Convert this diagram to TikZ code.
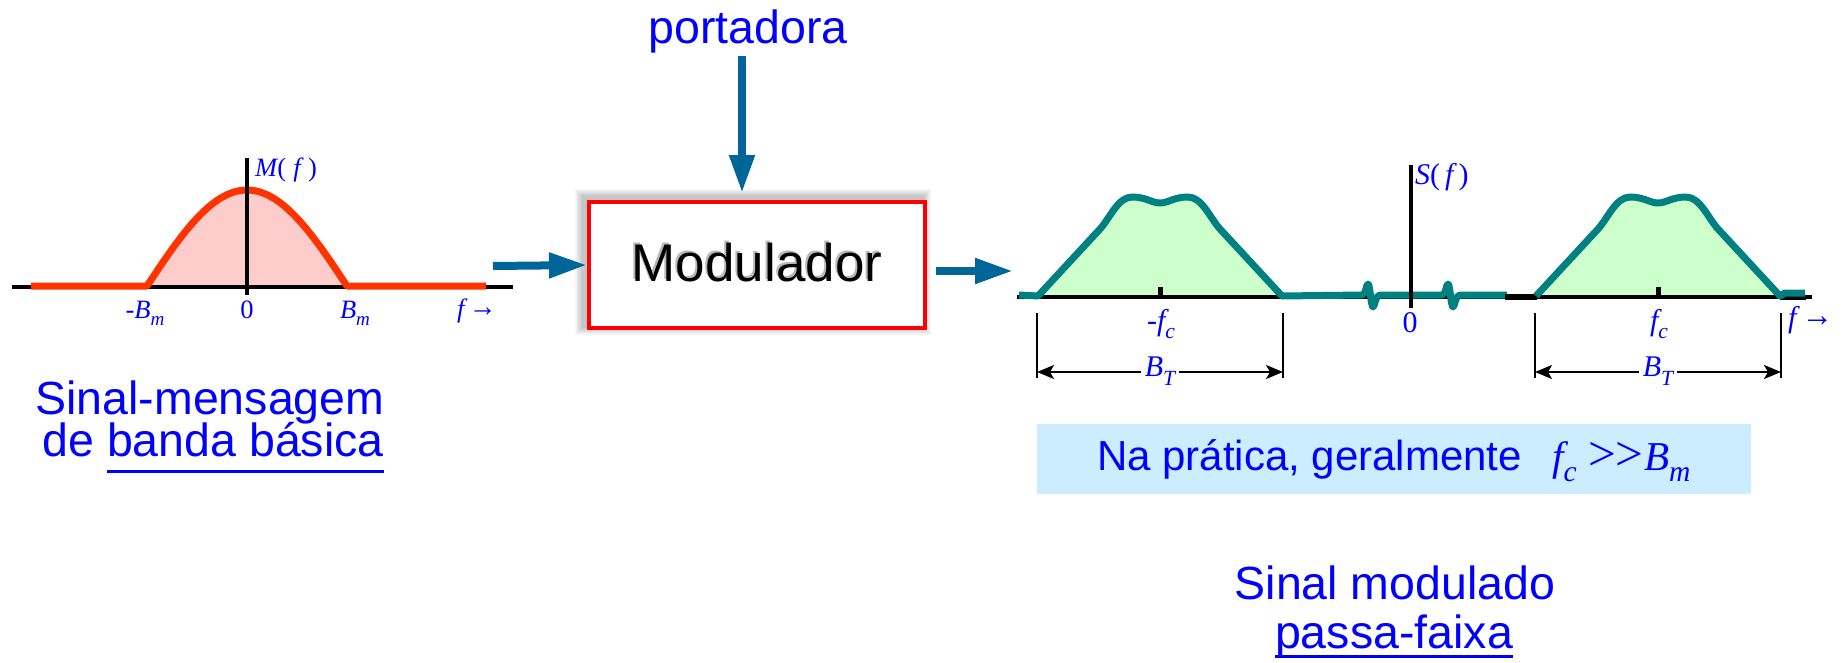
\documentclass[tikz,border=0pt]{standalone}
\usepackage{fontspec}
\usepackage{graphicx}
\setmainfont{Liberation Sans}
\newfontfamily\tms{Liberation Serif}
\usetikzlibrary{arrows.meta}

\definecolor{flowblue}{RGB}{0,102,153}
\definecolor{curvered}{RGB}{255,51,0}
\definecolor{pinkfill}{RGB}{255,204,204}
\definecolor{tealline}{RGB}{0,128,128}
\definecolor{greenfill}{RGB}{204,255,204}
\definecolor{infoblue}{RGB}{204,236,255}

% italic serif and lowered small subscript
\newcommand\vi[1]{{\itshape #1}}
\newcommand\dn[1]{\raisebox{-0.28em}{\scalebox{0.72}{#1}}}
% arrow after the frequency variable
\newcommand\farrow{\,\raisebox{0.02em}{\scalebox{1.05}[1.15]{→}}}
% text with a rule drawn #1 below its baseline
\newcommand\ulined[2]{{\setbox0\hbox{#2}\rlap{\rule[-#1]{\wd0}{3pt}}\box0}}

\begin{document}
\begin{tikzpicture}[x=1pt,y=-1pt,
  axisline/.style={black, line width=4pt},
  lab/.style={font=\tms\fontsize{26.5}{28}\selectfont, text=blue, inner sep=0pt},
  labR/.style={font=\tms\fontsize{30}{32}\selectfont, text=blue, inner sep=0pt},
  bigtext/.style={font=\fontsize{46.5}{48}\selectfont, text=blue, inner sep=0pt},
  flow/.style={draw=flowblue, line width=8pt, -{Triangle[length=38pt,width=24pt]}},
  redcurve/.style={draw=curvered, line width=7pt, line join=round},
  spectrum/.style={draw=tealline, line width=7pt, line join=round},
  dimbar/.style={black, line width=1.6pt},
  dimarrow/.style={black, line width=1.8pt, {Stealth[length=17pt,width=14pt,inset=4pt]}-{Stealth[length=17pt,width=14pt,inset=4pt]}}]
\useasboundingbox (0,0) rectangle (1843,662);

% ---------- baseband spectrum M(f) ----------
\fill[pinkfill] plot[domain=-100:100,samples=61] ({247+\x},{286-96*cos(0.9*\x)}) -- cycle;
\draw[axisline] (12,287) -- (513,287);
\draw[redcurve] (31,286) -- (147,286) -- plot[domain=-100:100,samples=61] ({247+\x},{286-96*cos(0.9*\x)}) -- (486,286);
\draw[axisline] (247,158) -- (247,295);

\node[lab, anchor=west] (Mf) at (255,170) {\vi{M}(\;\vi{f}\;)};
\node[lab, anchor=base] (mBm) at (145,318) {\vi{-B}\dn{\vi{m}}};
\node[lab, anchor=base] (z1) at (247,318) {0};
\node[lab, anchor=base] (pBm) at (355,318) {\vi{B}\dn{\vi{m}}};
\node[lab, anchor=base west] (f1) at (457,317) {\vi{f}\farrow};

\node[bigtext, anchor=base] (msg1) at (210,414) {Sinal-mensagem};
\node[bigtext, anchor=base] (msg2) at (213,456) {de \ulined{17pt}{banda básica}};

% ---------- modulator block ----------
\foreach \i in {1,...,8}
  \fill[black, opacity=0.03] (583-\i,197-\i) rectangle (923+\i,327+\i);
\node[draw=red, line width=4pt, fill=white, minimum width=336pt, minimum height=126pt, inner sep=0pt] (mod) at (757,265) {};
\node[font=\fontsize{53}{55}\selectfont, text=black!28, inner sep=0pt] (modshade) at (755,261) {Modulador};
\node[font=\fontsize{53}{55}\selectfont, inner sep=0pt] (modtxt) at (757,263) {Modulador};

\node[bigtext, anchor=base] (carrier) at (748,43) {portadora};

\coordinate (inTail) at (493,266);
\coordinate (carTail) at (742,56);
\coordinate (outTail) at (936,271);
\coordinate (outTip) at (1013,271);
\draw[flow] (inTail) -- (mod.west);
\draw[flow, shorten >=7pt] (carTail) -- (carTail |- mod.north);
\draw[flow] (outTail) -- (outTip);

% ---------- bandpass spectrum S(f) ----------
\foreach \c in {1160,1658}
  \fill[greenfill] ({\c-122},297) -- ({\c-60},229) .. controls ({\c-50},218) and ({\c-42},197) .. ({\c-28},197)
    .. controls ({\c-14},197) and ({\c-8},203) .. (\c,203)
    .. controls ({\c+8},203) and ({\c+14},197) .. ({\c+28},197)
    .. controls ({\c+42},197) and ({\c+50},218) .. ({\c+60},229) -- ({\c+122},297) -- cycle;
\draw[axisline] (1017,297) -- (1812,297);

\draw[spectrum] (1019,295) -- (1038,296) -- (1100,229)
  .. controls (1110,218) and (1118,197) .. (1132,197)
  .. controls (1146,197) and (1152,203) .. (1160,203)
  .. controls (1168,203) and (1174,197) .. (1188,197)
  .. controls (1202,197) and (1210,218) .. (1220,229) -- (1282,296) -- (1362,295)
  .. controls (1366,295) and (1366,284) .. (1368,284)
  .. controls (1370,284) and (1371,307) .. (1373,307)
  .. controls (1375,307) and (1375,295) .. (1380,295) -- (1442,295)
  .. controls (1446,295) and (1446,284) .. (1448,284)
  .. controls (1450,284) and (1451,307) .. (1453,307)
  .. controls (1455,307) and (1455,295) .. (1460,295) -- (1507,295);
\draw[black, line width=6pt] (1505,297) -- (1537,297);
\draw[black, line width=5pt] (1780,297) -- (1806,297);
\draw[spectrum] (1536,296) -- (1598,229)
  .. controls (1608,218) and (1616,197) .. (1630,197)
  .. controls (1644,197) and (1650,203) .. (1658,203)
  .. controls (1666,203) and (1672,197) .. (1686,197)
  .. controls (1700,197) and (1708,218) .. (1718,229) -- (1780,296) -- (1785,293) -- (1805,293);

\draw[black, line width=5pt] (1160,287) -- (1160,297);
\draw[black, line width=5pt] (1658,287) -- (1658,297);
\draw[axisline] (1411,165) -- (1411,308);

\node[labR, anchor=base west] (Sf) at (1415,184) {\vi{S}(\,\vi{f}\,)};
\node[labR, anchor=base] (z2) at (1410,332) {0};
\node[labR, anchor=base] (mfc) at (1161,330) {\vi{-f}\dn{\vi{c}}};
\node[labR, anchor=base] (pfc) at (1659,330) {\vi{f}\dn{\vi{c}}};
\node[labR, anchor=base west] (f2) at (1788,327) {\vi{f}\farrow};

% bandwidth dimension lines
\coordinate (a1) at (1037,313); \coordinate (a2) at (1037,378);
\coordinate (b1) at (1283,313); \coordinate (b2) at (1283,378);
\coordinate (c1) at (1535,313); \coordinate (c2) at (1535,378);
\coordinate (e1) at (1781,313); \coordinate (e2) at (1781,378);
\draw[dimbar] (a1) -- (a2);
\draw[dimbar] (b1) -- (b2);
\draw[dimbar] (c1) -- (c2);
\draw[dimbar] (e1) -- (e2);
\draw[dimarrow] ([yshift=-59pt]a1) -- ([yshift=-59pt]b1);
\draw[dimarrow] ([yshift=-59pt]c1) -- ([yshift=-59pt]e1);
\node[labR, fill=white, inner xsep=4pt, inner ysep=1pt] (BT1) at (1160,371) {\vi{B}\dn{\vi{T}}};
\node[labR, fill=white, inner xsep=4pt, inner ysep=1pt] (BT2) at (1658,371) {\vi{B}\dn{\vi{T}}};

% ---------- note ----------
\node[fill=infoblue, minimum width=714pt, minimum height=70pt, inner sep=0pt] (note) at (1394,459) {};
\node[font=\fontsize{42}{44}\selectfont, text=blue, anchor=base west, inner sep=0pt] (notetxt) at (1097,470) {Na prática, geralmente};
\node[font=\tms\fontsize{41}{43}\selectfont, text=blue, anchor=base west, inner sep=0pt] (ineq) at (1552,470) {\vi{f}\dn{\vi{c}}\hspace{12pt}\scalebox{1.2}{>\kern-1pt>}\hspace{1pt}\vi{B}\dn{\vi{m}}};

\node[bigtext, anchor=base] (out1) at (1395,599) {Sinal modulado};
\node[bigtext, anchor=base] (out2) at (1394,648) {\ulined{10pt}{passa-faixa}};
\end{tikzpicture}
\end{document}
